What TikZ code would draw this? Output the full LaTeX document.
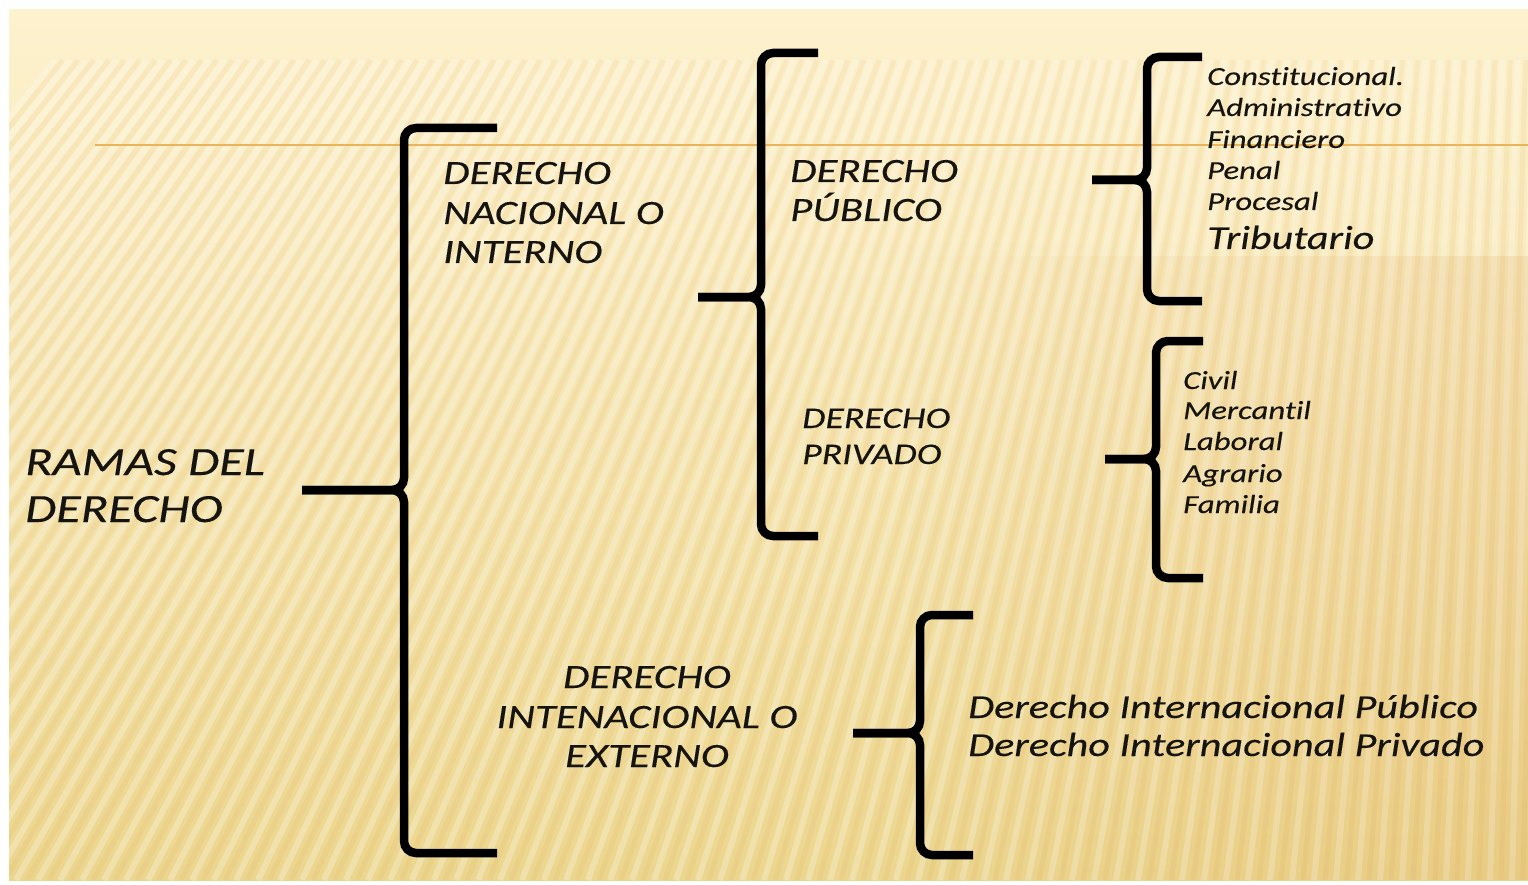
\documentclass[tikz,border=0pt]{standalone}
\usepackage{fontspec}
\usetikzlibrary{fadings}
\newfontfamily\cf{Carlito}[FakeStretch=1.26, Ligatures=NoCommon, FakeBold=0.25]
\definecolor{bgtop}{RGB}{253,242,206}
\definecolor{bgmid}{RGB}{248,231,178}
\definecolor{bgbot}{RGB}{236,214,142}
\definecolor{orangeline}{RGB}{233,180,90}
\definecolor{ink}{RGB}{22,20,16}
\newcommand\llave[7]{%
  \coordinate (#1-t) at (#2,#3);
  \coordinate (#1-tip) at (#5,#6);
  \coordinate (#1-b) at (#2,#7);
  \draw[llavestyle] (#1-t) -- (#4,#3) -- (#4,#6) -- (#1-tip);
  \draw[llavestyle] (#1-tip) -- (#4,#6) -- (#4,#7) -- (#1-b);
}
\begin{document}
\begin{tikzpicture}[x=1pt,y=-1pt,
  llavestyle/.style={draw=black, line width=8.5pt, rounded corners=12pt},
  txt/.style={inner sep=0pt, text=ink, anchor=base west},
  sz40/.style={font={\cf\itshape\fontsize{40}{47}\selectfont}},
  sz34/.style={font={\cf\itshape\fontsize{34}{40}\selectfont}},
  sz33/.style={font={\cf\itshape\fontsize{33.5}{39}\selectfont}},
  sz30/.style={font={\cf\itshape\fontsize{30}{36}\selectfont}},
  sz26/.style={font={\cf\itshape\fontsize{26}{31}\selectfont}},
  stripe/.style={white, opacity=0.26, line width=6pt},
  dstripe/.style={brown!60!orange, opacity=0.07, line width=5pt}]
\useasboundingbox (0,0) rectangle (1528,885);
\fill[white] (0,0) rectangle (1528,885);
\shade[top color=bgtop, middle color=bgmid, bottom color=bgbot] (9,10) rectangle (1528,880);
\begin{scope}
  \clip (9,60) rectangle (1528,880);
  \foreach \xb in {-600,-578,...,1580}{
    \draw[stripe] (\xb,880) -- ({\xb+475-0.3*\xb},60);
    \draw[dstripe] ({\xb+11},880) -- ({\xb+11+475-0.3*(\xb+11)},60);
  }
  \fill[brown!70!orange, opacity=0.12, path fading=west] (900,255) rectangle (1528,880);
\end{scope}
\coordinate (ol-a) at (95,145);
\coordinate (ol-b) at (1528,145);
\draw[orangeline, line width=1.8pt] (ol-a) -- (ol-b);

% braces
\llave{b1}{497}{128}{404}{302}{490}{853}
\llave{b2}{818}{53}{761}{698}{297}{536}
\llave{b3}{1202}{57}{1147}{1092}{180}{301}
\llave{b4}{1203}{341}{1156}{1105}{459}{578}
\llave{b5}{973}{615}{920}{853}{733}{855}

% texts
\node[txt,sz40] (r1) at (25,475) {RAMAS DEL};
\node[txt,sz40] (r2) at (25,522) {DERECHO};

\node[txt,sz34] (n1) at (443,184) {DERECHO};
\node[txt,sz34] (n2) at (443,224) {NACIONAL O};
\node[txt,sz34] (n3) at (443,263) {INTERNO};

\node[txt,sz34] (p1) at (790,182) {DERECHO};
\node[txt,sz34] (p2) at (790,221) {PÚBLICO};

\node[txt,sz30] (v1) at (802,428) {DERECHO};
\node[txt,sz30] (v2) at (802,464) {PRIVADO};

\node[txt,sz34,anchor=base] (i1) at (647,688) {DERECHO};
\node[txt,sz34,anchor=base] (i2) at (647,728) {INTENACIONAL O};
\node[txt,sz34,anchor=base] (i3) at (647,767) {EXTERNO};

\node[txt,sz26] (c1) at (1207,85) {Constitucional.};
\node[txt,sz26] (c2) at (1207,116) {Administrativo};
\node[txt,sz26] (c3) at (1207,148) {Financiero};
\node[txt,sz26] (c4) at (1207,179) {Penal};
\node[txt,sz26] (c5) at (1207,210) {Procesal};
\node[txt,sz33] (c6) at (1207,249) {Tributario};

\node[txt,sz26] (d1) at (1183,389) {Civil};
\node[txt,sz26] (d2) at (1183,419) {Mercantil};
\node[txt,sz26] (d3) at (1183,450) {Laboral};
\node[txt,sz26] (d4) at (1183,482) {Agrario};
\node[txt,sz26] (d5) at (1183,513) {Familia};

\node[txt,sz33] (e1) at (968,718) {Derecho Internacional Público};
\node[txt,sz33] (e2) at (968,756) {Derecho Internacional Privado};
\end{tikzpicture}
\end{document}
